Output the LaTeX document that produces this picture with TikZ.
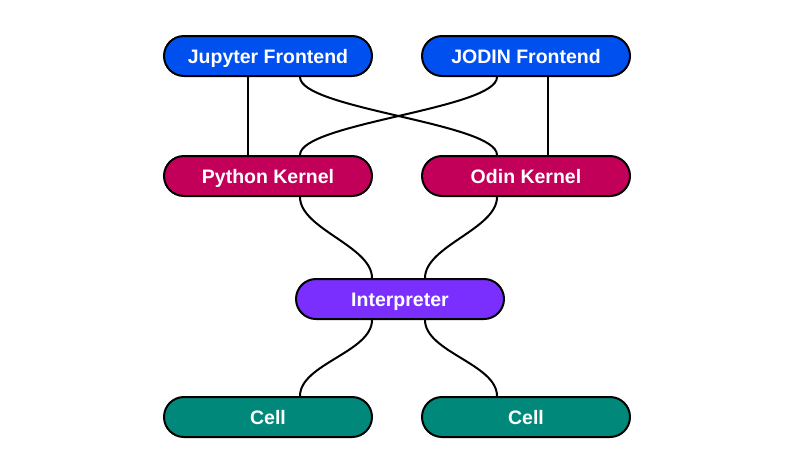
\documentclass[tikz,border=0pt]{standalone}
\usepackage{fontspec}
\setmainfont{Liberation Sans}
\usetikzlibrary{positioning}
\definecolor{frontblue}{HTML}{0050EF}
\definecolor{kernelred}{HTML}{C2005A}
\definecolor{interpviolet}{HTML}{7A2FFF}
\definecolor{cellteal}{HTML}{00897B}
\tikzset{box/.style = {draw=black, line width=2pt, rounded corners=20pt,
                       minimum width=208pt, minimum height=40pt, inner sep=0pt,
                       text height=15pt, text depth=1pt,
                       text=white, font=\fontsize{19.5}{23}\selectfont\bfseries},
         wire/.style = {line width=2pt}}

\begin{document}
\begin{tikzpicture}[x=1pt, y=-1pt]
    \useasboundingbox (0, 0) rectangle (800, 472);
    \node [box, fill=frontblue] (jupyter) at (268, 56) {Jupyter Frontend};
    \node [box, fill=frontblue] (jodin) at (526, 56) {JODIN Frontend};
    \node [box, fill=kernelred] (python) at (268, 176) {Python Kernel};
    \node [box, fill=kernelred] (odin) at (526, 176) {Odin Kernel};
    \node [box, fill=interpviolet] (interp) at (400, 299) {Interpreter};
    \node [box, fill=cellteal] (cellL) at (268, 417) {Cell};
    \node [box, fill=cellteal] (cellR) at (526, 417) {Cell};
    % frontends to kernels
    \draw [wire] ([xshift=-20pt]jupyter.south) -- ([xshift=-20pt]python.north);
    \draw [wire] ([xshift=22pt]jodin.south) -- ([xshift=22pt]odin.north);
    \draw [wire] ([xshift=32pt]jupyter.south) .. controls +(0, 32) and +(0, -32) .. ([xshift=-29pt]odin.north);
    \draw [wire] ([xshift=-29pt]jodin.south) .. controls +(0, 32) and +(0, -32) .. ([xshift=32pt]python.north);
    % kernels to interpreter
    \draw [wire] ([xshift=32pt]python.south) .. controls +(0, 32) and +(0, -32) .. ([xshift=-28pt]interp.north);
    \draw [wire] ([xshift=-29pt]odin.south) .. controls +(0, 32) and +(0, -32) .. ([xshift=25pt]interp.north);
    % interpreter to cells
    \draw [wire] ([xshift=-28pt]interp.south) .. controls +(0, 32) and +(0, -32) .. ([xshift=32pt]cellL.north);
    \draw [wire] ([xshift=25pt]interp.south) .. controls +(0, 32) and +(0, -32) .. ([xshift=-29pt]cellR.north);
\end{tikzpicture}
\end{document}
